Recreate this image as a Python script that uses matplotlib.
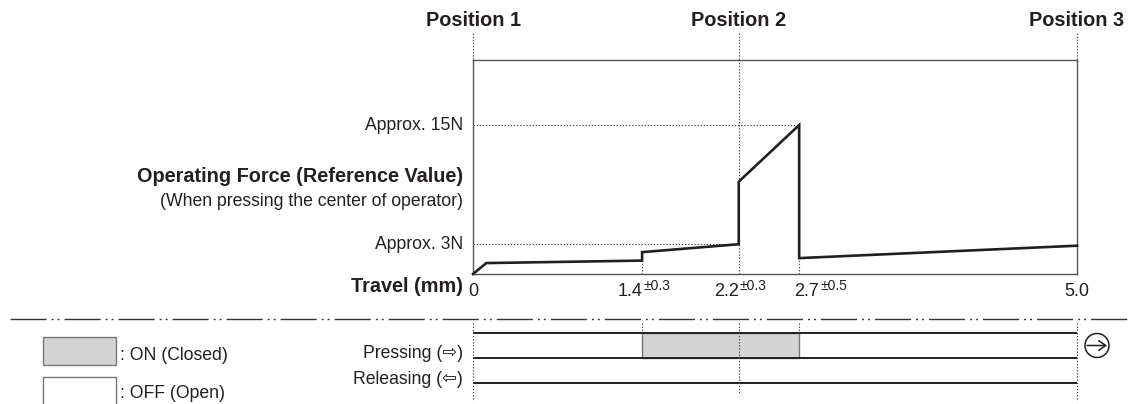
import matplotlib
matplotlib.use('Agg')
import matplotlib.pyplot as plt
from matplotlib.transforms import blended_transform_factory as blend
from matplotlib.patches import Rectangle, Circle

# ---------------- data ----------------
travel_mm = [0, 0.11, 1.4, 1.4, 2.2, 2.2, 2.7, 2.7, 5.0]
force_n = [0, 1.1, 1.35, 2.2, 3.0, 9.3, 15.0, 1.6, 2.85]
ref_forces = [15, 3]
ref_force_labels = ["Approx. 15N", "Approx. 3N"]
ref_force_x_end = [2.7, 2.2]
tick_vals = [0, 1.4, 2.2, 2.7, 5.0]
tick_main = ["0", "1.4", "2.2", "2.7", "5.0"]
tick_tol = ["", "±0.3", "±0.3", "±0.5", ""]
position_x = [0, 2.2, 5.0]
position_labels = ["Position 1", "Position 2", "Position 3"]
on_start, on_end = 1.4, 2.7

plt.rcParams['font.family'] = ['Liberation Sans', 'DejaVu Sans']
TXT = '#231f20'
DOT = (0, (1.2, 1.6))

W, H = 1128, 404
fig = plt.figure(figsize=(W / 100, H / 100), dpi=100)

# overlay axes in pixel units
ov = fig.add_axes([0, 0, 1, 1])
ov.set_xlim(0, W)
ov.set_ylim(H, 0)
ov.axis('off')
ov.set_zorder(5)
ov.patch.set_alpha(0)

# main chart axes
ax = fig.add_axes([473 / W, 1 - 274 / H, 604 / W, 214 / H])
ax.set_xlim(0, 5)
ax.set_ylim(0, 21.55)
ax.set_xticks([])
ax.set_yticks([])
ax.patch.set_alpha(0)
for s in ax.spines.values():
    s.set_color('#555555')
    s.set_linewidth(1.0)

bt = blend(ax.transData, ov.transData)   # x: travel, y: pixels
lt = blend(ov.transData, ax.transData)   # x: pixels, y: force

# curve
ax.plot(travel_mm, force_n, color=TXT, lw=1.9, solid_joinstyle='miter',
        clip_on=False, zorder=4)

# reference dotted lines inside the box
ax.hlines(ref_forces, 0, ref_force_x_end, colors='#444444', lw=0.8,
          linestyles=DOT, zorder=2)


def force_range(x):
    vals = [f for t, f in zip(travel_mm, force_n) if t == x]
    return min(vals), max(vals)


lo14, _ = force_range(1.4)
lo22, hi22 = force_range(2.2)
lo27, _ = force_range(2.7)
ax.vlines([1.4, 2.2, 2.7], 0, [lo14, lo22, lo27], colors='#444444', lw=0.8,
          linestyles=DOT, zorder=2)
ax.vlines([2.2], hi22, 21.55, colors='#444444', lw=0.8, linestyles=DOT, zorder=2)

# position labels and dotted leaders above the box
for x, lab in zip(position_x, position_labels):
    ov.text(x, 26, lab, transform=bt, ha='center', va='baseline',
            fontsize=14.3, fontweight='bold', color=TXT)
    ov.plot([x, x], [33, 60], transform=bt, color='#444444', lw=0.8, ls=DOT)

# force labels
for f, lab in zip(ref_forces, ref_force_labels):
    ov.text(463, f, lab, transform=lt, ha='right', va='center',
            fontsize=12.7, color=TXT)
ov.text(463, 181.5, "Operating Force (Reference Value)", ha='right',
        va='baseline', fontsize=14.3, fontweight='bold', color=TXT)
ov.text(463, 205.5, "(When pressing the center of operator)", ha='right',
        va='baseline', fontsize=12.7, color=TXT)
ov.text(463, 292.5, "Travel (mm)", ha='right', va='baseline',
        fontsize=14.3, fontweight='bold', color=TXT)

# tick labels
for x, m, tol in zip(tick_vals, tick_main, tick_tol):
    if not tol:
        ov.text(x, 296.5, m, transform=bt, ha='center', va='baseline',
                fontsize=13, color=TXT)
    elif x == 2.7:
        ov.annotate(m, xy=(x, 296.5), xycoords=bt, xytext=(-5, 0),
                    textcoords='offset pixels', ha='left', va='baseline',
                    fontsize=13, color=TXT)
        ov.annotate(tol, xy=(x, 290), xycoords=bt, xytext=(21, 0),
                    textcoords='offset pixels', ha='left', va='baseline',
                    fontsize=10, color=TXT)
    else:
        ov.annotate(m, xy=(x, 296.5), xycoords=bt, xytext=(0, 0),
                    textcoords='offset pixels', ha='right', va='baseline',
                    fontsize=13, color=TXT)
        ov.annotate(tol, xy=(x, 290), xycoords=bt, xytext=(1, 0),
                    textcoords='offset pixels', ha='left', va='baseline',
                    fontsize=10, color=TXT)

# separator dash-dot-dot line
ov.plot([10, W], [319, 319], color='#333333', lw=1.0,
        ls=(0, (26, 3.6, 1.4, 2.9, 1.4, 3.6)))

# switching section
ov.add_patch(Rectangle((on_start, 333), on_end - on_start, 25, transform=bt,
                       facecolor='#d3d3d3', edgecolor='#777777', lw=1.0))
for y in [333, 358, 383]:
    ov.plot([0, 5], [y, y], transform=bt, color=TXT, lw=1.4,
            solid_capstyle='butt')
for x, y0, y1 in [(0, 323, 401), (5.0, 323, 401), (2.2, 323, 393),
                  (on_start, 323, 333), (on_end, 323, 333)]:
    ov.plot([x, x], [y0, y1], transform=bt, color='#444444', lw=0.8, ls=DOT)

ov.text(463, 358, "Pressing (\u21e8)", ha='right', va='baseline',
        fontsize=12.7, color=TXT)
ov.text(463, 383.5, "Releasing (\u21e6)", ha='right', va='baseline',
        fontsize=12.7, color=TXT)

# circled arrow
ov.add_patch(Circle((1097, 345.5), 12, fill=False, lw=1.1, ec=TXT))
ov.annotate('', xy=(1107, 345.5), xytext=(1087, 345.5),
            arrowprops=dict(arrowstyle='->, head_length=0.5, head_width=0.35',
                            lw=1.1, color=TXT, shrinkA=0, shrinkB=0))

# legend
ov.add_patch(Rectangle((43, 337), 73, 28, facecolor='#d3d3d3',
                       edgecolor='#777777', lw=1.0))
ov.add_patch(Rectangle((43, 377), 73, 40, facecolor='white',
                       edgecolor='#777777', lw=1.0, clip_on=True))
ov.text(120, 360.5, ": ON (Closed)", ha='left', va='baseline',
        fontsize=12.7, color=TXT)
ov.text(120, 398, ": OFF (Open)", ha='left', va='baseline',
        fontsize=12.7, color=TXT)

fig.savefig('out.png', dpi=100, facecolor='white')
